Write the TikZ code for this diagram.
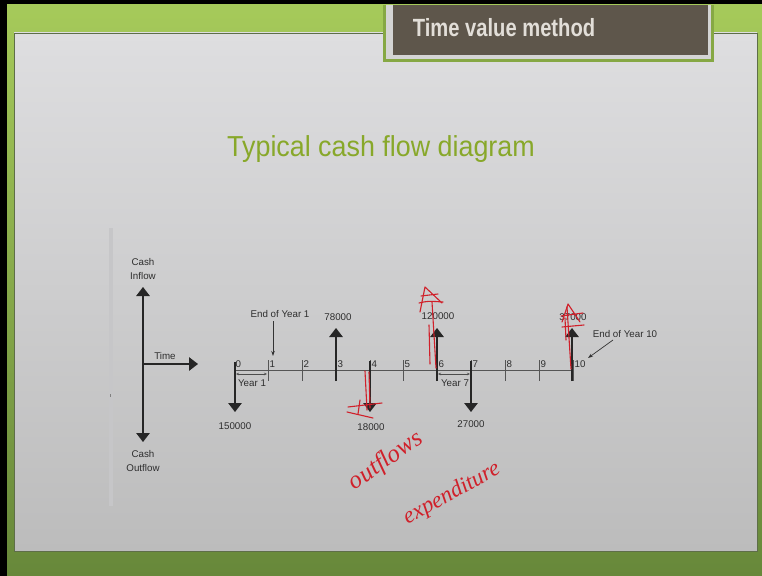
\documentclass[tikz,border=0pt]{standalone}
\usepackage{fontspec}
\setmainfont{Liberation Sans}
\newfontfamily\handfont{Liberation Serif}
\usetikzlibrary{arrows.meta,calc}
\definecolor{bgtop}{HTML}{A6CA5A}
\definecolor{bgbot}{HTML}{67883A}
\definecolor{paneltop}{HTML}{DEDEE0}
\definecolor{panelbot}{HTML}{BCBCBC}
\definecolor{panelline}{HTML}{5E6E48}
\definecolor{darkbox}{HTML}{5E564B}
\definecolor{boxframe}{HTML}{D4D4D4}
\definecolor{boxgreen}{HTML}{86A844}
\definecolor{titletxt}{HTML}{E2DED8}
\definecolor{headgreen}{HTML}{88A82A}
\definecolor{labtxt}{HTML}{2E2E2E}
\definecolor{axisgrey}{HTML}{555555}
\definecolor{ink}{HTML}{D0202A}
\definecolor{sidebar}{HTML}{C6C6C8}
\begin{document}
\begin{tikzpicture}[x=1bp,y=-1bp,
  lab/.style={font=\fontsize{9.8}{11}\selectfont, text=labtxt, inner sep=1bp},
  axisline/.style={draw=axisgrey, line width=0.9bp},
  cf/.style={draw=black!85, line width=1.3bp, -{Triangle[width=13.5bp,length=9bp]}},
  pointer/.style={draw=black!80, line width=0.7bp, -{Stealth[length=5bp,width=3.5bp]}},
  span/.style={draw=black!70, line width=0.5bp, {Stealth[length=3bp,width=2.5bp]}-{Stealth[length=3bp,width=2.5bp]}},
  pen/.style={draw=ink, line width=1.1bp, line cap=round, line join=round},
  hand/.style={font=\handfont\itshape\fontsize{25}{28}\selectfont, text=ink, inner sep=0pt}]
\useasboundingbox (0,0) rectangle (762,576);
% background
\fill[black] (0,0) rectangle (762,576);
\shade[top color=bgtop, bottom color=bgbot] (7,5) rectangle (762,576);
\shade[top color=paneltop, bottom color=panelbot, draw=panelline, line width=0.8bp] (14,33) rectangle (757,551);
% title box
\fill[boxgreen] (383,5) rectangle (714,62);
\fill[boxframe] (386,5) rectangle (711,59);
\fill[darkbox] (393,5) rectangle (708,55);
\node[font=\bfseries\fontsize{25}{30}\selectfont, text=titletxt, anchor=base, inner sep=0pt] (title) at (504,37) {\scalebox{0.81}[1]{Time value method}};
% heading
\node[font=\fontsize{29}{33}\selectfont, text=headgreen, anchor=base, inner sep=0pt] (heading) at (381,157) {\scalebox{0.93}[1]{Typical cash flow diagram}};
% side bar
\fill[sidebar] (109,228) rectangle (113,506);
\fill[black!50] (109.5,393.5) rectangle (111,396.5);
% legend axes
\coordinate (o) at (143,364);
\coordinate (up) at (143,287);
\coordinate (dn) at (143,442);
\coordinate (rt) at (198,364);
\draw[cf] (o) -- (up);
\draw[cf] (o) -- (dn);
\draw[cf] (o) -- (rt);
\node[lab, align=center, font=\fontsize{9.8}{14}\selectfont] (inflow) at (143,269) {Cash\\Inflow};
\node[lab, align=center, font=\fontsize{9.8}{14}\selectfont] (outflow) at (143,461) {Cash\\Outflow};
\node[lab] (time) at (165,356) {Time};
% timeline
\foreach \i/\x in {0/235,1/268,2/302,3/336,4/370,5/403,6/437,7/471,8/505,9/539,10/573} {
  \coordinate (t\i) at (\x,370);
  \coordinate (tt\i) at (\x,360);
  \coordinate (tb\i) at (\x,381);
}
\draw[axisline] (t0) -- (t10);
\foreach \i in {1,...,10} {\draw[axisline] (tt\i) -- (tb\i);}
\node[lab, anchor=west, inner sep=0.5bp] (n0) at ($(t0)+(0,-6)$) {0};
\foreach \i in {1,...,10} {\node[lab, anchor=west, inner sep=1bp] (n\i) at ($(t\i)+(0.5,-5.5)$) {\i};}
% cash flow arrows
\coordinate (d0s) at (235,362); \coordinate (d0e) at (235,412);
\coordinate (d4s) at (370,361); \coordinate (d4e) at (370,412);
\coordinate (d7s) at (471,361); \coordinate (d7e) at (471,412);
\coordinate (u3e) at (336,328);
\coordinate (u6e) at (437,328);
\coordinate (u10e) at (572,328);
\draw[cf] (d0s) -- (d0e);
\draw[cf] (d4s) -- (d4e);
\draw[cf] (d7s) -- (d7e);
\draw[cf] (tb3) -- (u3e);
\draw[cf] (tb6) -- (u6e);
\draw[cf] ($(tb10)+(-1,0)$) -- (u10e);
\node[lab] (v0) at (235,426) {150000};
\node[lab] (v3) at (338,317) {78000};
\node[lab] (v4) at (371,427) {18000};
\node[lab] (v6) at (438,316) {120000};
\node[lab] (v7) at (471,424) {27000};
\node[lab] (v10) at (573,317) {37000};
% year spans
\coordinate (y1a) at (236,374); \coordinate (y1b) at (267,374);
\coordinate (y7a) at (438,374); \coordinate (y7b) at (470,374);
\draw[span] (y1a) -- (y1b);
\draw[span] (y7a) -- (y7b);
\node[lab] (year1) at (252,383) {Year 1};
\node[lab] (year7) at (455,383) {Year 7};
% pointers
\node[lab] (eoy1) at (280,314) {End of Year 1};
\coordinate (p1) at (273,356);
\draw[pointer] (273,321) -- (p1);
\node[lab] (eoy10) at (625,334) {End of Year 10};
\coordinate (p10) at (588,358);
\draw[pointer] (613,340) -- (p10);
% handwritten red annotations
\draw[pen] (436,368) -- (432,302);
\draw[pen] (430,364) -- (429,325);
\draw[pen] (420,312) -- (425,287) -- (442,303);
\draw[pen] (419,303) .. controls (428,301) .. (443,302);
\draw[pen] (421,296) -- (438,294);
\draw[pen] (571,369) -- (567,307);
\draw[pen] (566,340) -- (565,318);
\draw[pen] (562,322) -- (568,304) -- (580,322);
\draw[pen] (561,316) -- (583,313);
\draw[pen] (562,327) -- (584,325);
\draw[pen] (365,371) -- (367,410);
\draw[pen] (369,372) -- (370,408);
\draw[pen] (348,407) -- (382,403);
\draw[pen] (347,412) -- (373,418);
\draw[pen] (360,400) -- (358,414);
\node[hand, rotate=35] (outflows) at (386,461) {outflows};
\node[hand, rotate=29, font=\handfont\itshape\fontsize{23}{26}\selectfont] (expend) at (452,494) {expenditure};
\end{tikzpicture}
\end{document}
